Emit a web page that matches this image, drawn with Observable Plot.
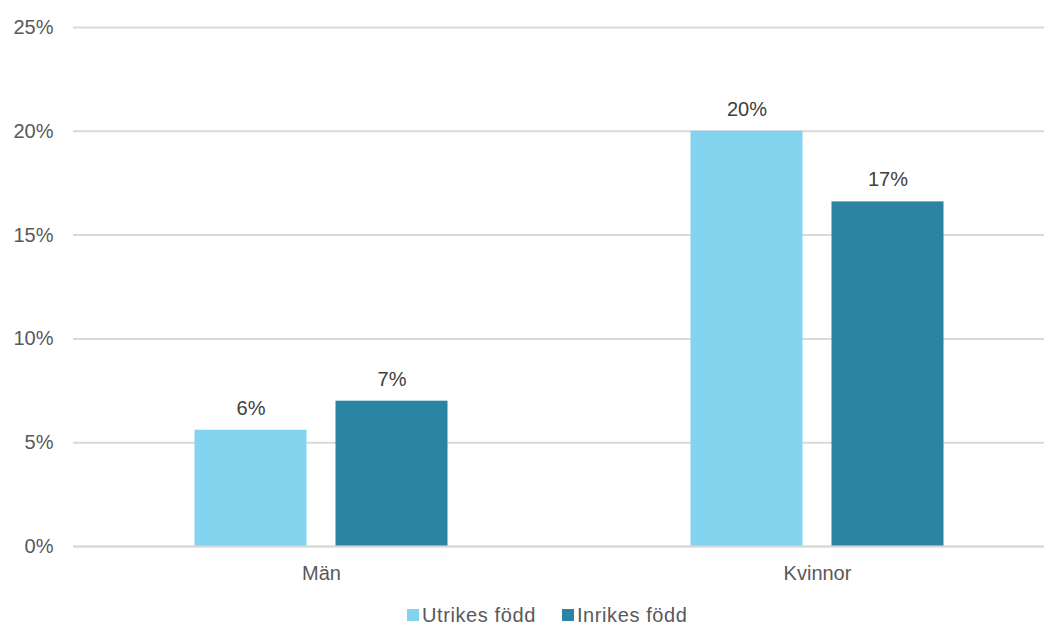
<!DOCTYPE html>
<html>
<head>
<meta charset="utf-8">
<script src="https://cdn.jsdelivr.net/npm/d3@7"></script>
<script src="https://cdn.jsdelivr.net/npm/@observablehq/plot@0.6"></script>
<style>
  html, body { margin: 0; padding: 0; background: #fff; }
  body { width: 1044px; height: 625px; overflow: hidden; font-family: "Liberation Sans", Arial, sans-serif; }
  #chart svg { display: block; }
  #legend { display: flex; align-items: center; margin-left: 407px; margin-top: 16px; font-size: 20px; letter-spacing: 0.6px; color: #595959; line-height: 18px; height: 18px; }
  .sw { width: 12px; height: 12px; display: inline-block; margin-right: 3px; }
  .item { display: flex; align-items: center; margin-right: 26px; }
</style>
</head>
<body>
<div id="chart"></div>
<div id="legend"></div>
<script>
const groups = ["Män", "Kvinnor"];
const seriesNames = ["Utrikes född", "Inrikes född"];
const utrikes = [5.6, 20.0];
const inrikes = [7.0, 16.6];
const yTicks = [0, 5, 10, 15, 20, 25];
const colors = ["#83d3ee", "#2b84a1"];

const dataU = groups.map((g, i) => ({group: g, value: utrikes[i]}));
const dataI = groups.map((g, i) => ({group: g, value: inrikes[i]}));
const fmt = d => Math.round(d.value) + "%";

const chart = Plot.plot({
  width: 1044,
  height: 590,
  marginTop: 27,
  marginBottom: 44,
  marginLeft: 73,
  marginRight: 0,
  style: {fontFamily: "'Liberation Sans', Arial, sans-serif", fontSize: "20px", color: "#595959", background: "#fff"},
  x: {domain: groups, range: [72.5, 1064.5], padding: 0, label: null},
  y: {domain: [0, 25], label: null},
  marks: [
    Plot.gridY(yTicks, {stroke: "#d9d9d9", strokeOpacity: 1, strokeWidth: 2}),
    Plot.barY(dataU, {x: "group", y: "value", fill: colors[0], insetLeft: 121.5, insetRight: 262.5}),
    Plot.barY(dataI, {x: "group", y: "value", fill: colors[1], insetLeft: 262.5, insetRight: 121.5}),
    Plot.ruleY([0], {stroke: "#d9d9d9", strokeWidth: 2}),
    Plot.text(dataU, {x: "group", y: "value", text: fmt, dx: -70.5, dy: -22, fill: "#404040", fontSize: 20}),
    Plot.text(dataI, {x: "group", y: "value", text: fmt, dx: 70.5, dy: -22, fill: "#404040", fontSize: 20}),
    Plot.axisY(yTicks, {tickSize: 0, tickPadding: 20, tickFormat: d => d + "%", fill: "#595959", fontSize: 20}),
    Plot.axisX({tickSize: 0, tickPadding: 19, fill: "#595959", fontSize: 20})
  ]
});
document.getElementById("chart").appendChild(chart);

const legend = document.getElementById("legend");
seriesNames.forEach((name, i) => {
  const item = document.createElement("div");
  item.className = "item";
  const sw = document.createElement("span");
  sw.className = "sw";
  sw.style.background = colors[i];
  const t = document.createElement("span");
  t.textContent = name;
  item.appendChild(sw);
  item.appendChild(t);
  legend.appendChild(item);
});
</script>
</body>
</html>
